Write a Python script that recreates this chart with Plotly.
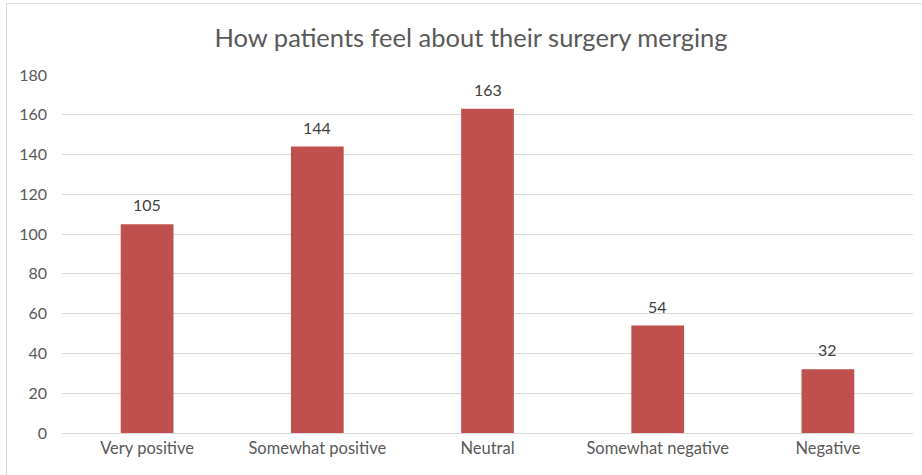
import plotly.graph_objects as go

categories = ["Very positive", "Somewhat positive", "Neutral", "Somewhat negative", "Negative"]
values = [105, 144, 163, 54, 32]
title_text = "How patients feel about their surgery merging"

W, H = 922, 475
L, T = 62, 75
R = W - 913
B = H - 433
pw = W - L - R
ph = H - T - B

FONT = "Lato, Noto Sans, sans-serif"

fig = go.Figure(go.Bar(
    x=categories, y=values,
    marker=dict(color="#C0504D", line=dict(width=0)),
    hoverinfo="x+y",
))

for c, v in zip(categories, values):
    fig.add_annotation(x=c, y=v, text=str(v), showarrow=False,
                       yanchor="bottom", yshift=8,
                       font=dict(family=FONT, size=16, color="#404040"))

fig.update_layout(
    width=W, height=H,
    margin=dict(l=L, r=R, t=T, b=B),
    paper_bgcolor="white", plot_bgcolor="white",
    bargap=0.69,
    showlegend=False,
    title=dict(text=title_text, x=471 / W, xanchor="center", y=1 - 38 / H, yanchor="middle",
               font=dict(family=FONT, size=25.5, color="#595959")),
    font=dict(family=FONT, size=16, color="#595959"),
    xaxis=dict(showgrid=False, showline=True, linecolor="#D9D9D9", linewidth=1,
               ticks="", tickfont=dict(size=16.5, color="#595959")),
    yaxis=dict(range=[0, 180], dtick=20, showgrid=True, gridcolor="#D9D9D9", gridwidth=1,
               zeroline=False, showline=False, ticks="", ticklen=0,
               ticklabelstandoff=14,
               tickfont=dict(size=16, color="#595959")),
)

# chart-area border
fig.add_shape(type="rect", xref="paper", yref="paper",
              x0=(6.5 - L) / pw, x1=(940 - L) / pw,
              y0=(T + ph - 490) / ph, y1=1 + (T - 3.5) / ph,
              line=dict(color="#D9D9D9", width=1), fillcolor="rgba(0,0,0,0)", layer="below")

fig.write_html("out.html", config={"displayModeBar": False},
               post_script="document.body.style.margin='0';")
